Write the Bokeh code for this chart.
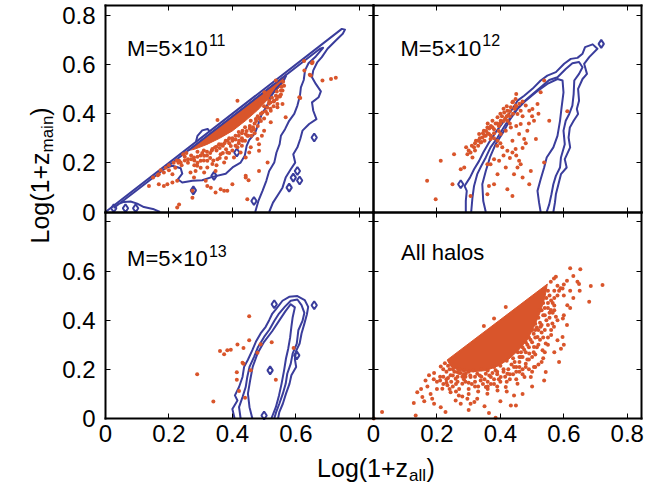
from bokeh.plotting import figure
from bokeh.models import Range1d, LinearAxis, FixedTicker, Label
from bokeh.embed import file_html
from bokeh.resources import INLINE
import math

XMAX = 0.845
YMAX = 0.84
BLUE = "#3a3d9c"
ORANGE = "#d9552b"
FONT = "Liberation Sans"

TICKS = [0, 0.2, 0.4, 0.6, 0.8]
TICK_TEXT = {0: "0", 0.2: "0.2", 0.4: "0.4", 0.6: "0.6", 0.8: "0.8"}

# ---------------- panel 1 : M=5x10^11 (top left) ----------------
tl_outer_x = [0.0, 0.745, 0.755, 0.748, 0.726, 0.700, 0.682, 0.668, 0.655, 0.651, 0.663, 0.679, 0.672, 0.651,
              0.655, 0.665, 0.642, 0.621, 0.614, 0.605, 0.592, 0.598, 0.584, 0.568, 0.558, 0.545, 0.528, 0.516]
tl_outer_y = [0.0, 0.745, 0.742, 0.725, 0.698, 0.664, 0.630, 0.610, 0.576, 0.548, 0.521, 0.491, 0.467, 0.446,
              0.412, 0.378, 0.358, 0.331, 0.297, 0.263, 0.235, 0.201, 0.174, 0.140, 0.099, 0.072, 0.038, 0.0]
tl_mid_x = [0.172, 0.153, 0.121, 0.100, 0.079, 0.058, 0.040, 0.028, 0.676, 0.686, 0.663, 0.640, 0.629, 0.625,
            0.616, 0.613, 0.605, 0.595, 0.579, 0.566, 0.553, 0.549, 0.539, 0.532, 0.516, 0.507, 0.495, 0.482, 0.472]
tl_mid_y = [0.0, 0.011, 0.020, 0.034, 0.043, 0.041, 0.032, 0.018, 0.664, 0.668, 0.633, 0.605, 0.576, 0.537,
            0.507, 0.473, 0.433, 0.399, 0.371, 0.337, 0.310, 0.276, 0.242, 0.201, 0.167, 0.127, 0.086, 0.045, 0.0]
tl_in_x = [0.184, 0.211, 0.237, 0.242, 0.228, 0.242, 0.274, 0.305, 0.337, 0.379, 0.403, 0.426, 0.439, 0.445,
           0.453, 0.471, 0.481, 0.492, 0.511, 0.523, 0.540, 0.561, 0.570]
tl_in_y = [0.178, 0.188, 0.178, 0.156, 0.133, 0.120, 0.127, 0.129, 0.143, 0.156, 0.184, 0.201, 0.229, 0.269,
           0.293, 0.320, 0.355, 0.396, 0.437, 0.473, 0.505, 0.532, 0.556]
tl_bump_x = [0.285, 0.290, 0.305, 0.322, 0.328]
tl_bump_y = [0.285, 0.310, 0.332, 0.338, 0.328]
tl_loops = [(0.658, 0.303), (0.605, 0.167), (0.592, 0.140), (0.612, 0.128), (0.579, 0.099), (0.468, 0.045),
            (0.414, 0.242), (0.342, 0.147), (0.277, 0.088), (0.026, 0.015), (0.063, 0.015), (0.095, 0.015)]
tl_core_x = [0.26, 0.57, 0.555, 0.52, 0.48, 0.44, 0.40, 0.36, 0.32, 0.28]
tl_core_y = [0.25, 0.56, 0.515, 0.47, 0.415, 0.37, 0.33, 0.30, 0.275, 0.255]
tl_points = [
    (0.137, 0.106), (0.168, 0.113), (0.184, 0.106), (0.211, 0.120), (0.184, 0.161), (0.168, 0.154), (0.232, 0.208),
    (0.268, 0.161), (0.279, 0.140), (0.274, 0.086), (0.274, 0.058), (0.232, 0.031), (0.226, 0.018), (0.321, 0.106),
    (0.347, 0.079), (0.363, 0.093), (0.384, 0.086), (0.400, 0.113), (0.442, 0.147), (0.511, 0.201), (0.542, 0.426),
    (0.568, 0.385), (0.558, 0.494), (0.563, 0.514), (0.611, 0.467), (0.627, 0.576), (0.653, 0.610), (0.684, 0.535),
    (0.711, 0.541), (0.726, 0.546), (0.647, 0.555), (0.532, 0.453), (0.521, 0.412), (0.500, 0.331), (0.479, 0.297),
    (0.626, 0.614), (0.651, 0.605), (0.644, 0.558), (0.614, 0.464), (0.553, 0.478), (0.542, 0.439), (0.558, 0.439),
    (0.553, 0.494), (0.537, 0.473), (0.516, 0.453), (0.508, 0.467), (0.521, 0.365), (0.493, 0.310), (0.484, 0.276),
    (0.484, 0.249), (0.458, 0.263), (0.453, 0.242), (0.442, 0.222), (0.484, 0.167), (0.442, 0.140), (0.451, 0.129),
    (0.474, 0.378), (0.468, 0.337), (0.458, 0.371), (0.447, 0.310), (0.432, 0.331), (0.421, 0.290), (0.419, 0.371),
    (0.416, 0.453), (0.463, 0.412), (0.474, 0.446), (0.489, 0.453), (0.501, 0.487), (0.537, 0.535),
    (0.174, 0.170), (0.211, 0.154), (0.237, 0.201), (0.260, 0.215), (0.279, 0.222), (0.284, 0.167), (0.289, 0.188),
    (0.300, 0.208), (0.311, 0.229), (0.321, 0.181), (0.321, 0.208), (0.337, 0.195), (0.347, 0.167), (0.353, 0.215),
    (0.363, 0.235), (0.374, 0.201), (0.384, 0.242), (0.395, 0.269), (0.405, 0.222), (0.416, 0.263), (0.426, 0.242),
    (0.432, 0.290), (0.442, 0.317), (0.379, 0.290), (0.358, 0.276), (0.337, 0.256), (0.311, 0.161), (0.316, 0.127),
    (0.332, 0.099), (0.374, 0.086), (0.447, 0.052), (0.195, 0.113), (0.226, 0.127),
    (0.29, 0.245), (0.31, 0.25), (0.33, 0.24), (0.345, 0.262), (0.37, 0.27), (0.39, 0.30), (0.41, 0.31),
    (0.42, 0.325), (0.44, 0.345), (0.455, 0.35), (0.47, 0.36), (0.48, 0.39), (0.495, 0.405), (0.50, 0.43),
    (0.515, 0.44), (0.525, 0.465), (0.54, 0.49), (0.35, 0.25), (0.36, 0.26), (0.40, 0.29), (0.43, 0.30),
    (0.46, 0.33), (0.25, 0.225), (0.27, 0.23), (0.30, 0.23), (0.32, 0.23), (0.38, 0.255), (0.39, 0.28),
    (0.15, 0.14), (0.165, 0.15), (0.19, 0.18), (0.20, 0.19), (0.215, 0.20), (0.225, 0.21), (0.245, 0.235),
    (0.255, 0.24), (0.353, 0.374),
    (0.20, 0.17), (0.22, 0.18), (0.24, 0.19), (0.26, 0.20), (0.28, 0.21), (0.29, 0.20), (0.31, 0.21),
    (0.33, 0.22), (0.34, 0.21), (0.36, 0.22), (0.37, 0.24), (0.38, 0.22), (0.40, 0.25), (0.41, 0.27),
    (0.42, 0.28), (0.43, 0.27), (0.44, 0.29), (0.45, 0.31), (0.46, 0.31), (0.47, 0.32), (0.48, 0.35),
    (0.49, 0.37), (0.50, 0.38), (0.51, 0.40), (0.52, 0.42), (0.53, 0.43), (0.54, 0.46), (0.55, 0.47),
    (0.28, 0.19), (0.30, 0.18), (0.35, 0.19), (0.39, 0.24),
    (0.23, 0.20), (0.25, 0.21), (0.27, 0.215), (0.29, 0.225), (0.305, 0.24), (0.32, 0.245), (0.335, 0.25),
    (0.35, 0.265), (0.365, 0.275), (0.375, 0.28), (0.385, 0.29), (0.40, 0.30), (0.41, 0.295), (0.42, 0.31),
    (0.43, 0.32), (0.445, 0.33), (0.455, 0.34), (0.465, 0.345), (0.475, 0.37), (0.485, 0.38), (0.49, 0.40),
    (0.505, 0.41), (0.51, 0.425), (0.52, 0.445), (0.53, 0.45), (0.545, 0.47), (0.555, 0.51), (0.56, 0.53),
]

# ---------------- panel 2 : M=5x10^12 (top right) ----------------
tr_outer_x = [0.291, 0.291, 0.294, 0.287, 0.304, 0.317, 0.333, 0.346, 0.364, 0.385, 0.412, 0.438, 0.454, 0.475,
              0.501, 0.527, 0.548, 0.575, 0.601, 0.622, 0.643, 0.659, 0.667, 0.691, 0.706, 0.680, 0.664, 0.673,
              0.659, 0.645, 0.648, 0.641, 0.645, 0.631, 0.619, 0.615, 0.620, 0.603, 0.609, 0.591, 0.583, 0.575,
              0.572, 0.567]
tr_outer_y = [0.0, 0.045, 0.086, 0.106, 0.140, 0.174, 0.208, 0.242, 0.283, 0.324, 0.371, 0.419, 0.453, 0.473,
              0.501, 0.535, 0.555, 0.569, 0.603, 0.623, 0.627, 0.644, 0.671, 0.682, 0.664, 0.630, 0.603, 0.562,
              0.541, 0.501, 0.453, 0.419, 0.399, 0.371, 0.344, 0.303, 0.263, 0.215, 0.181, 0.154, 0.113, 0.072,
              0.038, 0.0]
tr_mid_x = [0.308, 0.312, 0.317, 0.327, 0.340, 0.354, 0.369, 0.391, 0.417, 0.443, 0.464, 0.490, 0.527, 0.554,
            0.580, 0.606, 0.627, 0.648, 0.659, 0.648, 0.633, 0.631, 0.627, 0.617, 0.606, 0.599, 0.603, 0.591,
            0.588, 0.575, 0.567, 0.561, 0.554, 0.546]
tr_mid_y = [0.0, 0.059, 0.106, 0.154, 0.188, 0.222, 0.263, 0.303, 0.358, 0.405, 0.437, 0.467, 0.507, 0.537,
            0.548, 0.582, 0.605, 0.610, 0.589, 0.562, 0.535, 0.480, 0.433, 0.399, 0.371, 0.331, 0.276, 0.222,
            0.181, 0.147, 0.113, 0.072, 0.031, 0.0]
tr_in_x = [0.354, 0.346, 0.343, 0.354, 0.367, 0.385, 0.412, 0.431, 0.454, 0.480, 0.512, 0.548, 0.580, 0.596,
           0.599, 0.593, 0.588, 0.580, 0.567, 0.546, 0.538, 0.527, 0.517, 0.522, 0.527]
tr_in_y = [0.0, 0.045, 0.113, 0.167, 0.222, 0.276, 0.331, 0.378, 0.419, 0.453, 0.487, 0.521, 0.541, 0.535,
           0.487, 0.426, 0.371, 0.310, 0.263, 0.222, 0.181, 0.133, 0.086, 0.038, 0.0]
tr_loops = [(0.275, 0.113), (0.718, 0.684)]
tr_points = [
    (0.254, 0.235), (0.249, 0.113), (0.292, 0.263), (0.296, 0.235), (0.286, 0.181), (0.275, 0.174), (0.306, 0.242),
    (0.312, 0.222), (0.317, 0.263), (0.323, 0.290), (0.338, 0.283), (0.343, 0.303), (0.348, 0.331), (0.359, 0.344),
    (0.354, 0.310), (0.364, 0.317), (0.369, 0.297), (0.380, 0.337), (0.375, 0.371), (0.391, 0.385), (0.401, 0.371),
    (0.412, 0.405), (0.422, 0.412), (0.433, 0.426), (0.438, 0.446), (0.448, 0.433), (0.454, 0.399), (0.464, 0.412),
    (0.480, 0.433), (0.491, 0.412), (0.501, 0.419), (0.506, 0.371), (0.512, 0.297), (0.554, 0.371), (0.538, 0.535),
    (0.527, 0.487), (0.517, 0.439), (0.422, 0.371), (0.433, 0.344), (0.417, 0.331), (0.401, 0.317), (0.391, 0.290),
    (0.406, 0.263), (0.422, 0.249), (0.438, 0.242), (0.448, 0.256), (0.459, 0.208), (0.464, 0.194), (0.454, 0.181),
    (0.443, 0.154), (0.417, 0.181), (0.396, 0.208), (0.380, 0.215), (0.369, 0.194), (0.359, 0.194), (0.391, 0.154),
    (0.380, 0.113), (0.364, 0.106), (0.422, 0.093), (0.438, 0.065), (0.491, 0.113), (0.496, 0.167), (0.470, 0.140),
    (0.438, 0.290), (0.459, 0.317), (0.475, 0.297), (0.464, 0.358), (0.485, 0.331), (0.538, 0.201), (0.611, 0.410),
    (0.306, 0.065), (0.359, 0.072), (0.333, 0.317), (0.196, 0.052), (0.169, 0.127), (0.212, 0.208),
    (0.335, 0.30), (0.345, 0.32), (0.355, 0.33), (0.37, 0.35), (0.385, 0.36), (0.395, 0.35), (0.405, 0.39),
    (0.415, 0.38), (0.425, 0.395), (0.36, 0.36), (0.35, 0.29), (0.33, 0.27), (0.32, 0.25), (0.37, 0.31),
    (0.38, 0.30), (0.395, 0.33), (0.43, 0.41), (0.445, 0.42), (0.40, 0.40), (0.41, 0.42), (0.42, 0.43),
    (0.44, 0.45), (0.448, 0.46), (0.45, 0.48),
    (0.30, 0.25), (0.31, 0.27), (0.32, 0.28), (0.33, 0.29), (0.34, 0.285), (0.35, 0.31), (0.36, 0.32),
    (0.365, 0.34), (0.375, 0.345), (0.38, 0.32), (0.39, 0.36), (0.40, 0.36), (0.41, 0.37), (0.42, 0.39),
    (0.43, 0.39), (0.44, 0.40), (0.45, 0.43), (0.46, 0.44), (0.47, 0.45), (0.39, 0.27), (0.40, 0.28),
    (0.41, 0.23), (0.43, 0.22), (0.45, 0.23), (0.47, 0.26), (0.48, 0.28), (0.49, 0.36), (0.50, 0.39),
    (0.52, 0.40), (0.47, 0.39), (0.43, 0.36), (0.45, 0.35),
]

# ---------------- panel 3 : M=5x10^13 (bottom left) ----------------
bl_outer_x = [0.407, 0.400, 0.416, 0.408, 0.421, 0.432, 0.437, 0.449, 0.463, 0.474, 0.489, 0.505, 0.516, 0.526,
              0.537, 0.558, 0.579, 0.605, 0.628, 0.639, 0.635, 0.627, 0.618, 0.612, 0.601, 0.597, 0.601, 0.586,
              0.580, 0.569, 0.559, 0.548, 0.544]
bl_outer_y = [0.0, 0.039, 0.073, 0.094, 0.128, 0.169, 0.210, 0.239, 0.278, 0.312, 0.346, 0.373, 0.400, 0.427,
              0.444, 0.479, 0.495, 0.498, 0.482, 0.454, 0.424, 0.386, 0.346, 0.305, 0.275, 0.242, 0.210, 0.176,
              0.141, 0.101, 0.060, 0.026, 0.0]
bl_mid_x = [0.426, 0.421, 0.432, 0.442, 0.447, 0.454, 0.468, 0.481, 0.500, 0.517, 0.532, 0.547, 0.565, 0.584,
            0.605, 0.618, 0.627, 0.621, 0.608, 0.603, 0.590, 0.584, 0.573, 0.568, 0.559, 0.548, 0.538, 0.532]
bl_mid_y = [0.0, 0.046, 0.087, 0.128, 0.169, 0.210, 0.250, 0.291, 0.332, 0.362, 0.397, 0.427, 0.454, 0.479,
            0.484, 0.461, 0.430, 0.397, 0.359, 0.305, 0.264, 0.223, 0.182, 0.141, 0.101, 0.060, 0.026, 0.0]
bl_in_x = [0.463, 0.454, 0.449, 0.456, 0.464, 0.479, 0.500, 0.526, 0.547, 0.568, 0.584, 0.597, 0.590, 0.586,
           0.582, 0.576, 0.569, 0.563, 0.555, 0.547, 0.537, 0.523]
bl_in_y = [0.0, 0.046, 0.101, 0.155, 0.210, 0.264, 0.312, 0.356, 0.397, 0.438, 0.465, 0.452, 0.411, 0.373,
           0.329, 0.284, 0.244, 0.196, 0.141, 0.094, 0.046, 0.0]
bl_loops = [(0.532, 0.465), (0.658, 0.461), (0.603, 0.257), (0.519, 0.196), (0.500, 0.012)]
bl_points = [
    (0.453, 0.416), (0.453, 0.318), (0.416, 0.301), (0.361, 0.275), (0.374, 0.261), (0.384, 0.278), (0.395, 0.280),
    (0.435, 0.287), (0.489, 0.302), (0.524, 0.310), (0.479, 0.267), (0.435, 0.223), (0.458, 0.196), (0.414, 0.188),
    (0.414, 0.158), (0.537, 0.158), (0.421, 0.112), (0.440, 0.084), (0.340, 0.069), (0.593, 0.287), (0.289, 0.180),
    (0.432, 0.227),
]

# ---------------- panel 4 : All halos (bottom right) ----------------
br_core_x = [0.232, 0.548, 0.540, 0.525, 0.505, 0.485, 0.455, 0.425, 0.395, 0.355, 0.310, 0.270, 0.245]
br_core_y = [0.238, 0.547, 0.490, 0.430, 0.370, 0.320, 0.275, 0.240, 0.215, 0.195, 0.190, 0.195, 0.210]
br_points = [
    (0.001, 0.0), (0.027, 0.026), (0.133, 0.012), (0.127, 0.063), (0.138, 0.107), (0.154, 0.087), (0.164, 0.155),
    (0.175, 0.176), (0.191, 0.185), (0.212, 0.212), (0.185, 0.080), (0.191, 0.060), (0.212, 0.046), (0.227, 0.026),
    (0.217, 0.121), (0.233, 0.135), (0.243, 0.107), (0.259, 0.073), (0.269, 0.094), (0.275, 0.060), (0.296, 0.080),
    (0.306, 0.060), (0.318, 0.067), (0.327, 0.080), (0.359, 0.101), (0.364, 0.022), (0.385, 0.003), (0.354, 0.128),
    (0.391, 0.114), (0.417, 0.128), (0.433, 0.053), (0.449, 0.053), (0.443, 0.094), (0.454, 0.141), (0.476, 0.169),
    (0.496, 0.169), (0.506, 0.210), (0.538, 0.155), (0.543, 0.189), (0.533, 0.278), (0.543, 0.305), (0.580, 0.318),
    (0.596, 0.332), (0.591, 0.284), (0.585, 0.230), (0.564, 0.386), (0.575, 0.414), (0.597, 0.407), (0.611, 0.461),
    (0.596, 0.529), (0.643, 0.556), (0.648, 0.547), (0.680, 0.475), (0.685, 0.539), (0.722, 0.543), (0.620, 0.611),
    (0.652, 0.607), (0.569, 0.570), (0.575, 0.577), (0.559, 0.556), (0.522, 0.441), (0.559, 0.441), (0.569, 0.373),
    (0.527, 0.373), (0.517, 0.332), (0.506, 0.291), (0.491, 0.264), (0.480, 0.223), (0.464, 0.250), (0.443, 0.210),
    (0.422, 0.182), (0.401, 0.169), (0.370, 0.169), (0.338, 0.155), (0.306, 0.169), (0.280, 0.141), (0.259, 0.162),
    (0.243, 0.176), (0.264, 0.189), (0.291, 0.182), (0.327, 0.182), (0.354, 0.182), (0.385, 0.196), (0.417, 0.454),
    (0.380, 0.407), (0.348, 0.376),
    (0.25, 0.20), (0.27, 0.20), (0.285, 0.195), (0.30, 0.19), (0.315, 0.195), (0.34, 0.20), (0.36, 0.195),
    (0.38, 0.21), (0.40, 0.215), (0.42, 0.235), (0.44, 0.245), (0.455, 0.27), (0.47, 0.29), (0.48, 0.31),
    (0.49, 0.33), (0.50, 0.36), (0.51, 0.385), (0.52, 0.41), (0.53, 0.44), (0.535, 0.47), (0.545, 0.49),
    (0.55, 0.52), (0.23, 0.19), (0.22, 0.20), (0.245, 0.15), (0.26, 0.14), (0.29, 0.15), (0.31, 0.14),
    (0.33, 0.13), (0.37, 0.14), (0.40, 0.15), (0.43, 0.16), (0.46, 0.19), (0.47, 0.20), (0.49, 0.24),
    (0.51, 0.26), (0.52, 0.30), (0.53, 0.35), (0.545, 0.40), (0.555, 0.43), (0.565, 0.47), (0.58, 0.50),
    (0.59, 0.53), (0.61, 0.56), (0.63, 0.58), (0.60, 0.50), (0.62, 0.52), (0.56, 0.34), (0.55, 0.30),
    (0.50, 0.19), (0.52, 0.22), (0.535, 0.245),
    (0.15, 0.12), (0.17, 0.13), (0.20, 0.15), (0.21, 0.17), (0.23, 0.16), (0.25, 0.13), (0.27, 0.12),
    (0.28, 0.17), (0.30, 0.12), (0.32, 0.15), (0.34, 0.17), (0.36, 0.15), (0.38, 0.16), (0.39, 0.18),
    (0.41, 0.20), (0.42, 0.15), (0.44, 0.18), (0.45, 0.21), (0.46, 0.23), (0.47, 0.25), (0.48, 0.27),
    (0.49, 0.29), (0.50, 0.31), (0.51, 0.33), (0.52, 0.36), (0.53, 0.38), (0.54, 0.42), (0.55, 0.45),
    (0.56, 0.48), (0.57, 0.52), (0.58, 0.54), (0.57, 0.44), (0.58, 0.40), (0.56, 0.36), (0.55, 0.33),
    (0.54, 0.27), (0.53, 0.23), (0.51, 0.21), (0.49, 0.20), (0.47, 0.18), (0.45, 0.16), (0.42, 0.11),
    (0.39, 0.13), (0.36, 0.12), (0.33, 0.11), (0.30, 0.10), (0.28, 0.09), (0.26, 0.11), (0.24, 0.12),
    (0.22, 0.14), (0.20, 0.12), (0.18, 0.10), (0.16, 0.07), (0.30, 0.035), (0.35, 0.05), (0.40, 0.07),
    (0.47, 0.10), (0.50, 0.13), (0.62, 0.45), (0.63, 0.49), (0.65, 0.52), (0.60, 0.42), (0.61, 0.38),
    (0.57, 0.27), (0.60, 0.30),
    (0.22, 0.17), (0.235, 0.165), (0.25, 0.175), (0.265, 0.17), (0.275, 0.185), (0.29, 0.17), (0.305, 0.175),
    (0.32, 0.17), (0.335, 0.175), (0.35, 0.16), (0.365, 0.175), (0.375, 0.185), (0.39, 0.19), (0.41, 0.19),
    (0.425, 0.20), (0.435, 0.22), (0.445, 0.23), (0.46, 0.25), (0.465, 0.27), (0.475, 0.28), (0.485, 0.30),
    (0.495, 0.32), (0.505, 0.345), (0.51, 0.36), (0.515, 0.37), (0.525, 0.39), (0.535, 0.42), (0.54, 0.45),
    (0.55, 0.47), (0.555, 0.50), (0.265, 0.15), (0.285, 0.16), (0.30, 0.145), (0.32, 0.13), (0.345, 0.14),
    (0.36, 0.13), (0.38, 0.14), (0.395, 0.16), (0.415, 0.17), (0.43, 0.18), (0.45, 0.19), (0.46, 0.21),
    (0.48, 0.21), (0.485, 0.24), (0.50, 0.25), (0.505, 0.27), (0.515, 0.29), (0.525, 0.32), (0.535, 0.33),
    (0.54, 0.36), (0.55, 0.38), (0.555, 0.41), (0.565, 0.43), (0.57, 0.46), (0.57, 0.49), (0.585, 0.52),
    (0.60, 0.545), (0.23, 0.145), (0.21, 0.155), (0.19, 0.16),
    (0.225, 0.225), (0.235, 0.215), (0.24, 0.20), (0.255, 0.19), (0.27, 0.185), (0.285, 0.18),
]

panel_labels = ["M=5\u00d710", "M=5\u00d710", "M=5\u00d710", "All halos"]
panel_sups = ["11", "12", "13", ""]

# ---------------------------------------------------------------------------
W, H = 663, 487
PXX, PXY = 317.2, 245.8            # pixels per data unit
X0_L, X0_R = 105.0, 373.0          # pixel column of x = 0 (left / right panels)
Y0_T, Y0_B = 211.5, 418.0          # pixel row of y = 0 (top / bottom panels)

p = figure(width=W, height=H, title=None, toolbar_location=None, output_backend="svg",
           x_range=Range1d(-X0_L / PXX, (W - X0_L) / PXX),
           y_range=Range1d(-(H - Y0_T) / PXY, Y0_T / PXY),
           x_axis_location=None, y_axis_location=None,
           min_border=0, min_border_left=0, min_border_right=0, min_border_top=0, min_border_bottom=0)
p.extra_x_ranges = {"R": Range1d(-X0_R / PXX, (W - X0_R) / PXX)}
p.extra_y_ranges = {"B": Range1d(-(H - Y0_B) / PXY, Y0_B / PXY)}
p.grid.visible = False
p.outline_line_color = None
p.background_fill_color = "white"
p.border_fill_color = "white"

TL = dict(x_range_name="default", y_range_name="default")
TR = dict(x_range_name="R", y_range_name="default")
BL = dict(x_range_name="default", y_range_name="B")
BR = dict(x_range_name="R", y_range_name="B")


def draw_panel(rng, lines, loops, points, core=None):
    if core is not None:
        p.patch(core[0], core[1], fill_color=ORANGE, line_color=ORANGE, line_width=1, **rng)
    for xs, ys in lines:
        p.line(xs, ys, line_color=BLUE, line_width=2, line_join="round", **rng)
    if loops:
        p.scatter([a for a, b in loops], [b for a, b in loops], marker="diamond", size=8,
                  fill_color=None, line_color=BLUE, line_width=2, **rng)
    p.scatter([a for a, b in points], [b for a, b in points], marker="circle", size=4,
              fill_color=ORANGE, line_color=None, **rng)


draw_panel(TL, [(tl_outer_x, tl_outer_y), (tl_mid_x, tl_mid_y), (tl_in_x, tl_in_y), (tl_bump_x, tl_bump_y)],
           tl_loops, tl_points, core=(tl_core_x, tl_core_y))
draw_panel(TR, [(tr_outer_x, tr_outer_y), (tr_mid_x, tr_mid_y), (tr_in_x, tr_in_y)], tr_loops, tr_points)
draw_panel(BL, [(bl_outer_x, bl_outer_y), (bl_mid_x, bl_mid_y), (bl_in_x, bl_in_y)], bl_loops, bl_points)
draw_panel(BR, [], [], br_points, core=(br_core_x, br_core_y))


def add_axis(side, rng, ticks, labelled, line=True):
    vertical = side in ("left", "right")
    loc = {"left": 0, "below": 0, "right": XMAX, "above": YMAX}[side]
    bnd = (0, YMAX) if vertical else (0, XMAX)
    ax = LinearAxis(fixed_location=loc, bounds=bnd, ticker=FixedTicker(ticks=ticks, minor_ticks=[]),
                    major_tick_in=5, major_tick_out=0, major_tick_line_color="black",
                    major_tick_line_width=1, minor_tick_line_color=None,
                    axis_line_color="black" if line else None, axis_line_width=2, axis_line_cap="square",
                    major_label_text_font=FONT, major_label_text_font_size="24px",
                    major_label_text_color="black", **rng)
    if labelled:
        ax.major_label_overrides = {t: TICK_TEXT[t] for t in ticks}
        ax.major_label_standoff = 10 if vertical else 6
    else:
        ax.major_label_text_color = None
    p.add_layout(ax, side)


# labelled outer axes
add_axis("left", TL, TICKS, True)
add_axis("left", BL, [0, 0.2, 0.4, 0.6], True)
add_axis("left", BL, [0.8], False, line=False)
add_axis("below", BL, [0, 0.2, 0.4, 0.6], True)
add_axis("below", BL, [0.8], False, line=False)
add_axis("below", BR, TICKS, True)
# remaining panel edges (box lines with inward ticks)
for rng, sides in [(TL, ["right", "below", "above"]), (TR, ["left", "right", "above", "below"]),
                   (BL, ["right", "above"]), (BR, ["left", "right", "above"])]:
    for s in sides:
        add_axis(s, rng, TICKS, False)

# panel labels
label_pos = [(TL, 0.068, 0.665, 0.326, 0.698), (TR, 0.085, 0.665, 0.343, 0.698),
             (BL, 0.068, 0.650, 0.326, 0.681), (BR, 0.087, 0.677, 0.0, 0.0)]
for (rng, lx, ly, sx, sy), txt, sup in zip(label_pos, panel_labels, panel_sups):
    p.add_layout(Label(x=lx, y=ly, text=txt, text_font=FONT, text_font_size="22px",
                       text_baseline="alphabetic", text_color="black", **rng))
    if sup:
        p.add_layout(Label(x=sx, y=sy, text=sup, text_font=FONT, text_font_size="16px",
                           text_baseline="alphabetic", text_color="black", **rng))

# axis titles (with subscripts)
title_parts_y = [("Log(1+z", -0.205, -0.128, "25px"), ("main", -0.184, 0.242, "17px"), (")", -0.205, 0.392, "25px")]
for txt, lx, ly, fs in title_parts_y:
    p.add_layout(Label(x=lx, y=ly, text=txt, angle=math.pi / 2, text_font=FONT, text_font_size=fs,
                       text_baseline="alphabetic", text_color="black", **TL))
title_parts_x = [("Log(1+z", 0.667, -0.200, "25px"), ("all", 0.957, -0.231, "17px"), (")", 1.012, -0.200, "25px")]
for txt, lx, ly, fs in title_parts_x:
    p.add_layout(Label(x=lx, y=ly, text=txt, text_font=FONT, text_font_size=fs,
                       text_baseline="alphabetic", text_color="black", **BL))

open("out.html", "w").write(file_html(p, INLINE))
